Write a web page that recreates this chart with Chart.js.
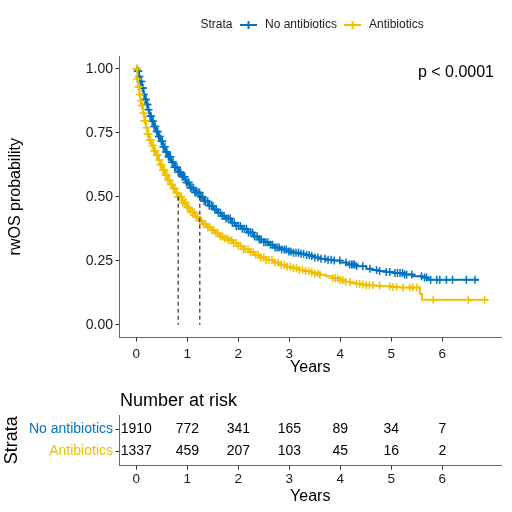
<!DOCTYPE html>
<html>
<head>
<meta charset="utf-8">
<script src="https://cdn.jsdelivr.net/npm/chart.js@4.4.1/dist/chart.umd.min.js"></script>
<style>
  html, body { margin: 0; padding: 0; background: #fff; }
  #wrap { position: relative; width: 512px; height: 512px; }
  #km { position: absolute; left: 0; top: 0; }
  #risk { position: absolute; left: 0; top: 380px; }
</style>
</head>
<body>
<div id="wrap">
  <canvas id="km" width="512" height="380"></canvas>
  <canvas id="risk" width="512" height="132"></canvas>
</div>
<script>
const strata = ["No antibiotics", "Antibiotics"];
const strataColors = ["#0073C2", "#EFC000"];

// KM curves (time in years, survival probability)
const noAbxTime = [0, 0.02, 0.05, 0.08, 0.11, 0.14, 0.17, 0.2, 0.23, 0.26, 0.3, 0.34, 0.38, 0.43, 0.47, 0.52, 0.57, 0.62, 0.68, 0.75, 0.82, 0.89, 0.97, 1.05, 1.15, 1.245, 1.33, 1.42, 1.51, 1.6, 1.68, 1.75, 1.87, 1.96, 2.05, 2.17, 2.29, 2.4, 2.5, 2.6, 2.7, 2.82, 2.95, 3.08, 3.21, 3.3, 3.4, 3.5, 3.6, 3.73, 3.86, 4.0, 4.12, 4.3, 4.51, 4.63, 4.75, 4.9, 5.04, 5.25, 5.43, 5.6, 5.72, 6.72];
const noAbxSurv = [1, 0.99, 0.97, 0.95, 0.925, 0.9, 0.88, 0.86, 0.84, 0.815, 0.795, 0.775, 0.755, 0.735, 0.717, 0.695, 0.675, 0.656, 0.635, 0.615, 0.596, 0.578, 0.556, 0.535, 0.517, 0.5, 0.482, 0.465, 0.45, 0.437, 0.425, 0.415, 0.398, 0.386, 0.375, 0.36, 0.345, 0.333, 0.322, 0.312, 0.302, 0.294, 0.286, 0.281, 0.277, 0.272, 0.268, 0.263, 0.258, 0.254, 0.251, 0.243, 0.235, 0.228, 0.219, 0.214, 0.21, 0.206, 0.202, 0.196, 0.189, 0.184, 0.176, 0.176];
const abxTime = [0, 0.02, 0.035, 0.06, 0.08, 0.1, 0.13, 0.16, 0.19, 0.22, 0.26, 0.3, 0.34, 0.38, 0.43, 0.47, 0.52, 0.57, 0.62, 0.67, 0.72, 0.77, 0.82, 0.9, 0.98, 1.06, 1.15, 1.22, 1.3, 1.38, 1.47, 1.55, 1.64, 1.72, 1.8, 1.9, 2.0, 2.1, 2.2, 2.3, 2.42, 2.55, 2.7, 2.82, 2.95, 3.08, 3.2, 3.3, 3.4, 3.5, 3.6, 3.72, 3.85, 3.97, 4.1, 4.2, 4.3, 4.4, 4.5, 4.65, 4.8, 5.0, 5.16, 5.52, 5.56, 5.6, 6.9];
const abxSurv = [1, 0.96, 0.93, 0.9, 0.875, 0.857, 0.826, 0.797, 0.77, 0.745, 0.722, 0.7, 0.68, 0.662, 0.644, 0.625, 0.605, 0.585, 0.565, 0.548, 0.532, 0.516, 0.5, 0.478, 0.458, 0.439, 0.421, 0.406, 0.393, 0.381, 0.369, 0.357, 0.345, 0.337, 0.33, 0.319, 0.308, 0.295, 0.283, 0.273, 0.263, 0.253, 0.243, 0.234, 0.226, 0.221, 0.215, 0.21, 0.205, 0.2, 0.195, 0.189, 0.182, 0.175, 0.168, 0.164, 0.16, 0.157, 0.154, 0.152, 0.15, 0.147, 0.145, 0.145, 0.12, 0.098, 0.098];

// censoring times
const noAbxCensor = [0.01, 0.03, 0.04, 0.06, 0.08, 0.1, 0.12, 0.13, 0.15, 0.17, 0.19, 0.21, 0.22, 0.24, 0.27, 0.29, 0.31, 0.33, 0.35, 0.37, 0.4, 0.42, 0.44, 0.46, 0.49, 0.51, 0.53, 0.56, 0.58, 0.6, 0.63, 0.65, 0.67, 0.7, 0.72, 0.75, 0.77, 0.8, 0.82, 0.85, 0.87, 0.9, 0.93, 0.95, 0.98, 1.01, 1.03, 1.06, 1.09, 1.12, 1.15, 1.18, 1.21, 1.24, 1.27, 1.3, 1.33, 1.36, 1.4, 1.43, 1.47, 1.5, 1.54, 1.57, 1.61, 1.65, 1.68, 1.72, 1.76, 1.8, 1.84, 1.88, 1.92, 1.96, 2.0, 2.04, 2.08, 2.12, 2.16, 2.2, 2.24, 2.28, 2.32, 2.37, 2.41, 2.45, 2.5, 2.54, 2.58, 2.63, 2.67, 2.72, 2.76, 2.8, 2.85, 2.9, 2.94, 2.99, 3.03, 3.08, 3.13, 3.18, 3.23, 3.28, 3.34, 3.39, 3.44, 3.5, 3.56, 3.62, 3.7, 3.76, 3.82, 3.88, 3.99, 4.11, 4.18, 4.22, 4.25, 4.28, 4.32, 4.44, 4.58, 4.71, 4.77, 4.9, 4.97, 5.07, 5.12, 5.17, 5.22, 5.26, 5.3, 5.4, 5.59, 5.65, 5.69, 5.77, 5.89, 5.95, 6.08, 6.2, 6.47, 6.64];
const abxCensor = [0.01, 0.02, 0.04, 0.05, 0.07, 0.09, 0.11, 0.12, 0.14, 0.16, 0.18, 0.2, 0.22, 0.24, 0.26, 0.28, 0.31, 0.33, 0.35, 0.37, 0.4, 0.42, 0.45, 0.47, 0.5, 0.52, 0.55, 0.57, 0.6, 0.62, 0.65, 0.68, 0.7, 0.73, 0.76, 0.79, 0.82, 0.85, 0.88, 0.91, 0.94, 0.97, 1.0, 1.03, 1.07, 1.1, 1.13, 1.17, 1.2, 1.24, 1.28, 1.32, 1.36, 1.4, 1.44, 1.48, 1.52, 1.56, 1.6, 1.65, 1.69, 1.73, 1.78, 1.82, 1.87, 1.91, 1.96, 2.0, 2.05, 2.1, 2.14, 2.19, 2.24, 2.29, 2.34, 2.39, 2.44, 2.5, 2.55, 2.6, 2.66, 2.72, 2.78, 2.84, 2.9, 2.96, 3.02, 3.08, 3.14, 3.2, 3.26, 3.32, 3.38, 3.44, 3.5, 3.56, 3.6, 3.85, 3.9, 3.95, 4.0, 4.05, 4.1, 4.19, 4.32, 4.38, 4.44, 4.51, 4.57, 4.64, 4.77, 4.97, 5.03, 5.1, 5.23, 5.36, 5.42, 5.5, 5.82, 6.51, 6.83];

const medianTimes = [1.245, 0.82];

const xTicks = [0, 1, 2, 3, 4, 5, 6];
const yTicks = [0, 0.25, 0.5, 0.75, 1];

const riskTimes = [0, 1, 2, 3, 4, 5, 6];
const riskNoAbx = [1910, 772, 341, 165, 89, 34, 7];
const riskAbx = [1337, 459, 207, 103, 45, 16, 2];

const pText = "p < 0.0001";

const FONT = "'Liberation Sans', Arial, sans-serif";
Chart.defaults.font.family = FONT;
Chart.defaults.color = "#1a1a1a";

// survival value of a step curve at time t
const stepAt = (times, surv, t) => {
    let s = surv[0];
    for (let i = 0; i < times.length; i++) {
        if (times[i] <= t) s = surv[i];
    }
    return s;
};

const curves = [
    { time: noAbxTime, surv: noAbxSurv, censor: noAbxCensor },
    { time: abxTime, surv: abxSurv, censor: abxCensor }
];

const kmDatasets = [];
medianTimes.forEach((m) => {
    kmDatasets.push({
        data: [{ x: m, y: 0.5 }, { x: m, y: 0 }],
        showLine: true, borderColor: "#000", borderWidth: 1, borderDash: [4, 3],
        pointRadius: 0, order: 0
    });
});
curves.forEach((c, i) => {
    kmDatasets.push({
        label: strata[i],
        data: c.time.map((t, j) => ({ x: t, y: c.surv[j] })),
        showLine: true, stepped: true, borderColor: strataColors[i], borderWidth: 2,
        pointRadius: 0, order: i === 1 ? 2 : 4
    });
    kmDatasets.push({
        data: c.censor.map((t) => ({ x: t, y: stepAt(c.time, c.surv, t) })),
        showLine: false, pointStyle: "cross", pointRadius: 4,
        pointBorderColor: strataColors[i], pointBorderWidth: 1.5,
        order: i === 1 ? 1 : 3
    });
});

const xScale = (height, tickPad, titlePad) => ({
    type: "linear", min: -0.33, max: 7.15,
    afterBuildTicks: (s) => { s.ticks = xTicks.map((v) => ({ value: v })); },
    afterFit: (s) => { s.height = height; },
    grid: { drawOnChartArea: false, tickLength: 4, tickColor: "#333" },
    border: { color: "#666", width: 1 },
    ticks: { padding: tickPad, font: { size: 13.5 }, color: "#1a1a1a" },
    title: { display: true, text: "Years", color: "#000", font: { size: 16 }, padding: { top: 0, bottom: titlePad } }
});

const kmDecor = {
    id: "kmDecor",
    afterDraw(chart) {
        const ctx = chart.ctx;
        const area = chart.chartArea;
        ctx.save();
        ctx.fillStyle = "#000";
        ctx.font = "16px " + FONT;
        ctx.textAlign = "right";
        ctx.textBaseline = "alphabetic";
        ctx.fillText(pText, area.right - 7, area.top + 20.5);

        // legend
        ctx.font = "12px " + FONT;
        ctx.textAlign = "left";
        ctx.textBaseline = "middle";
        ctx.fillStyle = "#1a1a1a";
        ctx.fillText("Strata", 200.5, 25);
        const keys = [{ x: 240, tx: 265 }, { x: 344, tx: 369 }];
        keys.forEach((k, i) => {
            ctx.strokeStyle = strataColors[i];
            ctx.lineWidth = 2;
            ctx.beginPath();
            ctx.moveTo(k.x, 25);
            ctx.lineTo(k.x + 17, 25);
            ctx.moveTo(k.x + 8.5, 21);
            ctx.lineTo(k.x + 8.5, 29);
            ctx.stroke();
            ctx.fillText(strata[i], k.tx, 25);
        });
        ctx.restore();
    }
};

new Chart(document.getElementById("km"), {
    type: "scatter",
    data: { datasets: kmDatasets },
    options: {
        responsive: false,
        animation: false,
        events: [],
        layout: { padding: { top: 56, right: 11, left: 0, bottom: 0 } },
        scales: {
            x: xScale(42.5, 4.5, 2.4),
            y: {
                type: "linear", min: -0.05, max: 1.05,
                afterBuildTicks: (s) => { s.ticks = yTicks.map((v) => ({ value: v })); },
                afterFit: (s) => { s.width = 119.5; },
                grid: { drawOnChartArea: false, tickLength: 4, tickColor: "#333" },
                border: { color: "#666", width: 1 },
                ticks: { padding: 2.5, font: { size: 14 }, color: "#1a1a1a", callback: (v) => v.toFixed(2) },
                title: { display: true, text: "rwOS probability", color: "#000", font: { size: 16 }, padding: { top: 6, bottom: 0 } }
            }
        },
        plugins: { legend: { display: false }, tooltip: { enabled: false } }
    },
    plugins: [kmDecor]
});

const riskText = {
    id: "riskText",
    afterDatasetsDraw(chart) {
        const ctx = chart.ctx;
        ctx.save();
        ctx.fillStyle = "#000";
        ctx.font = "14px " + FONT;
        ctx.textAlign = "center";
        ctx.textBaseline = "middle";
        chart.data.datasets.forEach((ds, i) => {
            chart.getDatasetMeta(i).data.forEach((pt, j) => {
                ctx.fillText(String(ds.counts[j]), pt.x, pt.y);
            });
        });
        ctx.font = "18px " + FONT;
        ctx.textAlign = "left";
        ctx.textBaseline = "alphabetic";
        ctx.fillText("Number at risk", chart.chartArea.left + 0.5, 25.5);
        ctx.restore();
    }
};

const riskCounts = [riskNoAbx, riskAbx];

new Chart(document.getElementById("risk"), {
    type: "scatter",
    data: {
        datasets: strata.map((name, i) => ({
            label: name,
            data: riskTimes.map((t) => ({ x: t, y: strata.length - i })),
            counts: riskCounts[i],
            pointRadius: 0
        }))
    },
    options: {
        responsive: false,
        animation: false,
        events: [],
        layout: { padding: { top: 35, right: 11, left: 0, bottom: 0 } },
        scales: {
            x: xScale(46.3, 1, 6),
            y: {
                type: "linear", min: 0.35, max: 2.65,
                afterBuildTicks: (s) => { s.ticks = strata.map((n, i) => ({ value: strata.length - i })); },
                afterFit: (s) => { s.width = 119.5; },
                grid: { drawOnChartArea: false, tickLength: 4, tickColor: "#333" },
                border: { color: "#666", width: 1 },
                ticks: {
                    padding: 2.5, font: { size: 14 },
                    callback: (v) => strata[strata.length - v],
                    color: (c) => strataColors[strata.length - c.tick.value]
                },
                title: { display: true, text: "Strata", color: "#000", font: { size: 18 }, padding: { top: 1.2, bottom: 0 } }
            }
        },
        plugins: { legend: { display: false }, tooltip: { enabled: false } }
    },
    plugins: [riskText]
});
</script>
</body>
</html>
